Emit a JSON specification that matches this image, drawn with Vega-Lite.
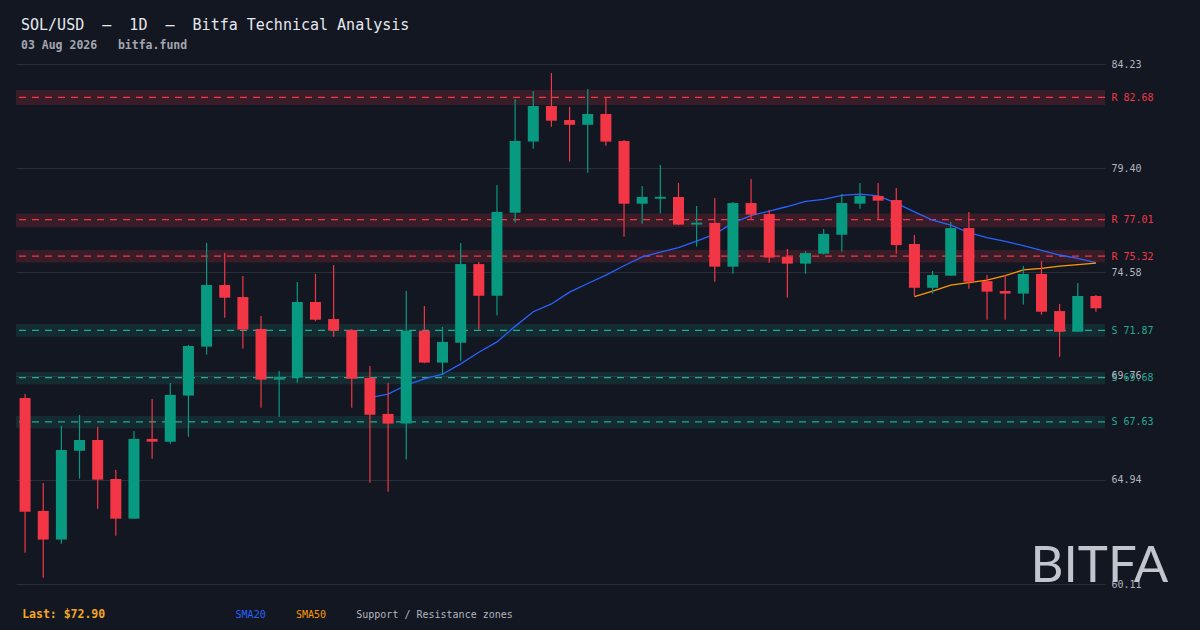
{
  "$schema": "https://vega.github.io/schema/vega-lite/v6.json",
  "background": "#131722",
  "autosize": {"type": "none"},
  "padding": {"left": 16, "top": 64, "right": 95, "bottom": 46},
  "width": 1089,
  "height": 520,
  "title": {
    "text": "SOL/USD\u00a0\u00a0–\u00a0\u00a01D\u00a0\u00a0–\u00a0\u00a0Bitfa Technical Analysis",
    "subtitle": "03 Aug 2026\u00a0\u00a0\u00a0bitfa.fund",
    "anchor": "start",
    "frame": "group",
    "dx": 5,
    "offset": 8,
    "font": "DejaVu Sans Mono",
    "fontSize": 15,
    "fontWeight": "normal",
    "color": "#e6e8ee",
    "subtitleFont": "DejaVu Sans Mono",
    "subtitleFontSize": 11.5,
    "subtitleFontWeight": "bold",
    "subtitleColor": "#a3a6af",
    "subtitlePadding": 7
  },
  "datasets": {
    "candles": [
      {"i": 0, "date": "2026-06-05", "o": 68.74, "h": 68.92, "l": 61.56, "c": 63.46},
      {"i": 1, "date": "2026-06-06", "o": 63.50, "h": 64.80, "l": 60.40, "c": 62.17},
      {"i": 2, "date": "2026-06-07", "o": 62.17, "h": 67.44, "l": 61.98, "c": 66.33},
      {"i": 3, "date": "2026-06-08", "o": 66.29, "h": 67.95, "l": 65.00, "c": 66.79},
      {"i": 4, "date": "2026-06-09", "o": 66.79, "h": 67.39, "l": 63.60, "c": 64.95},
      {"i": 5, "date": "2026-06-10", "o": 64.98, "h": 65.40, "l": 62.35, "c": 63.14},
      {"i": 6, "date": "2026-06-11", "o": 63.14, "h": 67.21, "l": 63.14, "c": 66.84},
      {"i": 7, "date": "2026-06-12", "o": 66.84, "h": 68.69, "l": 65.92, "c": 66.71},
      {"i": 8, "date": "2026-06-13", "o": 66.71, "h": 69.43, "l": 66.62, "c": 68.88},
      {"i": 9, "date": "2026-06-14", "o": 68.85, "h": 71.20, "l": 66.94, "c": 71.15},
      {"i": 10, "date": "2026-06-15", "o": 71.12, "h": 75.93, "l": 70.75, "c": 73.98},
      {"i": 11, "date": "2026-06-16", "o": 73.98, "h": 75.46, "l": 72.46, "c": 73.39},
      {"i": 12, "date": "2026-06-17", "o": 73.42, "h": 74.40, "l": 71.03, "c": 71.91},
      {"i": 13, "date": "2026-06-18", "o": 71.94, "h": 72.54, "l": 68.29, "c": 69.59},
      {"i": 14, "date": "2026-06-19", "o": 69.59, "h": 69.99, "l": 67.87, "c": 69.71},
      {"i": 15, "date": "2026-06-20", "o": 69.68, "h": 74.12, "l": 69.45, "c": 73.19},
      {"i": 16, "date": "2026-06-21", "o": 73.19, "h": 74.49, "l": 72.30, "c": 72.37},
      {"i": 17, "date": "2026-06-22", "o": 72.40, "h": 74.91, "l": 71.58, "c": 71.86},
      {"i": 18, "date": "2026-06-23", "o": 71.89, "h": 71.94, "l": 68.29, "c": 69.63},
      {"i": 19, "date": "2026-06-24", "o": 69.67, "h": 70.22, "l": 64.81, "c": 67.96},
      {"i": 20, "date": "2026-06-25", "o": 68.00, "h": 69.43, "l": 64.39, "c": 67.55},
      {"i": 21, "date": "2026-06-26", "o": 67.55, "h": 73.70, "l": 65.88, "c": 71.86},
      {"i": 22, "date": "2026-06-27", "o": 71.86, "h": 73.01, "l": 70.35, "c": 70.38},
      {"i": 23, "date": "2026-06-28", "o": 70.38, "h": 72.03, "l": 69.82, "c": 71.34},
      {"i": 24, "date": "2026-06-29", "o": 71.30, "h": 75.93, "l": 70.47, "c": 74.95},
      {"i": 25, "date": "2026-06-30", "o": 74.95, "h": 75.05, "l": 71.91, "c": 73.48},
      {"i": 26, "date": "2026-07-01", "o": 73.48, "h": 78.62, "l": 72.56, "c": 77.37},
      {"i": 27, "date": "2026-07-02", "o": 77.33, "h": 82.61, "l": 76.87, "c": 80.66},
      {"i": 28, "date": "2026-07-03", "o": 80.63, "h": 82.98, "l": 80.30, "c": 82.28},
      {"i": 29, "date": "2026-07-04", "o": 82.28, "h": 83.81, "l": 81.32, "c": 81.60},
      {"i": 30, "date": "2026-07-05", "o": 81.63, "h": 82.24, "l": 79.70, "c": 81.41},
      {"i": 31, "date": "2026-07-06", "o": 81.41, "h": 83.07, "l": 79.19, "c": 81.91},
      {"i": 32, "date": "2026-07-07", "o": 81.91, "h": 82.70, "l": 80.44, "c": 80.63},
      {"i": 33, "date": "2026-07-08", "o": 80.66, "h": 80.70, "l": 76.22, "c": 77.75},
      {"i": 34, "date": "2026-07-09", "o": 77.75, "h": 78.57, "l": 76.82, "c": 78.06},
      {"i": 35, "date": "2026-07-10", "o": 77.98, "h": 79.55, "l": 77.29, "c": 78.07},
      {"i": 36, "date": "2026-07-11", "o": 78.06, "h": 78.71, "l": 76.75, "c": 76.78},
      {"i": 37, "date": "2026-07-12", "o": 76.78, "h": 77.64, "l": 75.76, "c": 76.87},
      {"i": 38, "date": "2026-07-13", "o": 76.86, "h": 78.01, "l": 74.13, "c": 74.83},
      {"i": 39, "date": "2026-07-14", "o": 74.83, "h": 77.83, "l": 74.50, "c": 77.78},
      {"i": 40, "date": "2026-07-15", "o": 77.78, "h": 78.90, "l": 76.99, "c": 77.24},
      {"i": 41, "date": "2026-07-16", "o": 77.27, "h": 77.46, "l": 75.01, "c": 75.25},
      {"i": 42, "date": "2026-07-17", "o": 75.29, "h": 75.65, "l": 73.39, "c": 74.97},
      {"i": 43, "date": "2026-07-18", "o": 74.97, "h": 75.55, "l": 74.50, "c": 75.46},
      {"i": 44, "date": "2026-07-19", "o": 75.43, "h": 76.58, "l": 75.39, "c": 76.35},
      {"i": 45, "date": "2026-07-20", "o": 76.31, "h": 78.20, "l": 75.52, "c": 77.78},
      {"i": 46, "date": "2026-07-21", "o": 77.75, "h": 78.71, "l": 77.52, "c": 78.11},
      {"i": 47, "date": "2026-07-22", "o": 78.11, "h": 78.71, "l": 76.99, "c": 77.89},
      {"i": 48, "date": "2026-07-23", "o": 77.92, "h": 78.48, "l": 75.43, "c": 75.83},
      {"i": 49, "date": "2026-07-24", "o": 75.88, "h": 76.30, "l": 73.44, "c": 73.85},
      {"i": 50, "date": "2026-07-25", "o": 73.85, "h": 74.63, "l": 73.58, "c": 74.44},
      {"i": 51, "date": "2026-07-26", "o": 74.41, "h": 76.90, "l": 74.41, "c": 76.62},
      {"i": 52, "date": "2026-07-27", "o": 76.62, "h": 77.37, "l": 73.81, "c": 74.13},
      {"i": 53, "date": "2026-07-28", "o": 74.16, "h": 74.44, "l": 72.37, "c": 73.67},
      {"i": 54, "date": "2026-07-29", "o": 73.70, "h": 74.44, "l": 72.37, "c": 73.58},
      {"i": 55, "date": "2026-07-30", "o": 73.58, "h": 74.86, "l": 73.07, "c": 74.49},
      {"i": 56, "date": "2026-07-31", "o": 74.49, "h": 75.09, "l": 72.60, "c": 72.74},
      {"i": 57, "date": "2026-08-01", "o": 72.77, "h": 73.10, "l": 70.65, "c": 71.81},
      {"i": 58, "date": "2026-08-02", "o": 71.81, "h": 74.07, "l": 71.81, "c": 73.47},
      {"i": 59, "date": "2026-08-03", "o": 73.47, "h": 73.52, "l": 72.74, "c": 72.90}
    ],
    "sma": [
      {"i": 19, "ma": "SMA20", "v": 68.76}, {"i": 20, "ma": "SMA20", "v": 68.92},
      {"i": 21, "ma": "SMA20", "v": 69.34}, {"i": 22, "ma": "SMA20", "v": 69.62},
      {"i": 23, "ma": "SMA20", "v": 69.84}, {"i": 24, "ma": "SMA20", "v": 70.32},
      {"i": 25, "ma": "SMA20", "v": 70.86}, {"i": 26, "ma": "SMA20", "v": 71.34},
      {"i": 27, "ma": "SMA20", "v": 72.06}, {"i": 28, "ma": "SMA20", "v": 72.74},
      {"i": 29, "ma": "SMA20", "v": 73.10}, {"i": 30, "ma": "SMA20", "v": 73.65},
      {"i": 31, "ma": "SMA20", "v": 74.05}, {"i": 32, "ma": "SMA20", "v": 74.44},
      {"i": 33, "ma": "SMA20", "v": 74.87}, {"i": 34, "ma": "SMA20", "v": 75.28},
      {"i": 35, "ma": "SMA20", "v": 75.50}, {"i": 36, "ma": "SMA20", "v": 75.71},
      {"i": 37, "ma": "SMA20", "v": 76.01}, {"i": 38, "ma": "SMA20", "v": 76.34},
      {"i": 39, "ma": "SMA20", "v": 76.86}, {"i": 40, "ma": "SMA20", "v": 77.20},
      {"i": 41, "ma": "SMA20", "v": 77.41}, {"i": 42, "ma": "SMA20", "v": 77.62},
      {"i": 43, "ma": "SMA20", "v": 77.86}, {"i": 44, "ma": "SMA20", "v": 77.95},
      {"i": 45, "ma": "SMA20", "v": 78.14}, {"i": 46, "ma": "SMA20", "v": 78.19},
      {"i": 47, "ma": "SMA20", "v": 78.11}, {"i": 48, "ma": "SMA20", "v": 77.78},
      {"i": 49, "ma": "SMA20", "v": 77.37}, {"i": 50, "ma": "SMA20", "v": 76.99},
      {"i": 51, "ma": "SMA20", "v": 76.76}, {"i": 52, "ma": "SMA20", "v": 76.41},
      {"i": 53, "ma": "SMA20", "v": 76.18}, {"i": 54, "ma": "SMA20", "v": 76.00},
      {"i": 55, "ma": "SMA20", "v": 75.81}, {"i": 56, "ma": "SMA20", "v": 75.58},
      {"i": 57, "ma": "SMA20", "v": 75.37}, {"i": 58, "ma": "SMA20", "v": 75.21},
      {"i": 59, "ma": "SMA20", "v": 75.02},
      {"i": 49, "ma": "SMA50", "v": 73.44}, {"i": 50, "ma": "SMA50", "v": 73.70},
      {"i": 51, "ma": "SMA50", "v": 73.97}, {"i": 52, "ma": "SMA50", "v": 74.09},
      {"i": 53, "ma": "SMA50", "v": 74.21}, {"i": 54, "ma": "SMA50", "v": 74.41},
      {"i": 55, "ma": "SMA50", "v": 74.68}, {"i": 56, "ma": "SMA50", "v": 74.75},
      {"i": 57, "ma": "SMA50", "v": 74.85}, {"i": 58, "ma": "SMA50", "v": 74.92},
      {"i": 59, "ma": "SMA50", "v": 74.99}
    ],
    "zones": [
      {"kind": "R", "level": 82.68, "lo": 82.33, "hi": 83.02},
      {"kind": "R", "level": 77.01, "lo": 76.66, "hi": 77.30},
      {"kind": "R", "level": 75.32, "lo": 75.02, "hi": 75.60},
      {"kind": "S", "level": 71.87, "lo": 71.58, "hi": 72.17},
      {"kind": "S", "level": 69.68, "lo": 69.37, "hi": 69.94},
      {"kind": "S", "level": 67.63, "lo": 67.33, "hi": 67.90}
    ]
  },
  "layer": [
    {
      "data": {"name": "zones"},
      "mark": {"type": "rect"},
      "encoding": {
        "y": {
          "field": "lo",
          "type": "quantitative",
          "scale": {"domain": [60.11, 84.23], "nice": false, "zero": false},
          "axis": {
            "orient": "right",
            "title": null,
            "values": [84.23, 82.68, 79.40, 77.01, 75.32, 74.58, 71.87, 69.76, 69.68, 67.63, 64.94, 60.11],
            "labelExpr": "indexof([82.68, 77.01, 75.32], datum.value) >= 0 ? 'R ' + format(datum.value, '.2f') : indexof([71.87, 69.68, 67.63], datum.value) >= 0 ? 'S ' + format(datum.value, '.2f') : format(datum.value, '.2f')",
            "labelColor": {
              "condition": [
                {"test": "indexof([82.68, 77.01, 75.32], datum.value) >= 0", "value": "#f23645"},
                {"test": "indexof([71.87, 69.68, 67.63], datum.value) >= 0", "value": "#22ab94"}
              ],
              "value": "#b2b5be"
            },
            "gridOpacity": {
              "condition": {"test": "indexof([82.68, 77.01, 75.32, 71.87, 69.68, 67.63], datum.value) >= 0", "value": 0},
              "value": 1
            },
            "grid": true,
            "gridColor": "#2a2e39",
            "gridWidth": 1,
            "domain": false,
            "ticks": false,
            "labelPadding": 6,
            "labelOverlap": false,
            "labelBound": false,
            "labelFlush": false,
            "labelFont": "DejaVu Sans Mono",
            "labelFontSize": 10
          }
        },
        "y2": {"field": "hi"},
        "color": {
          "field": "kind",
          "type": "nominal",
          "scale": {"domain": ["R", "S"], "range": ["#f23645", "#22ab94"]},
          "legend": null
        },
        "fillOpacity": {"condition": {"test": "datum.kind == 'R'", "value": 0.17}, "value": 0.14}
      }
    },
    {
      "data": {"name": "zones"},
      "mark": {"type": "rule", "strokeDash": [7, 6], "strokeWidth": 1.3},
      "encoding": {
        "y": {"field": "level", "type": "quantitative"},
        "color": {"field": "kind", "type": "nominal", "legend": null}
      }
    },
    {
      "data": {"name": "sma"},
      "mark": {"type": "line", "strokeWidth": 1.3, "interpolate": "linear"},
      "encoding": {
        "x": {"field": "i", "type": "quantitative"},
        "y": {"field": "v", "type": "quantitative"},
        "detail": {"field": "ma", "type": "nominal"},
        "stroke": {
          "field": "ma",
          "type": "nominal",
          "scale": {"domain": ["SMA20", "SMA50"], "range": ["#2962ff", "#ff9800"]},
          "legend": null
        }
      }
    },
    {
      "data": {"name": "candles"},
      "mark": {"type": "rule", "strokeWidth": 1.2},
      "encoding": {
        "x": {"field": "i", "type": "quantitative"},
        "y": {"field": "l", "type": "quantitative"},
        "y2": {"field": "h"},
        "color": {"condition": {"test": "datum.c >= datum.o", "value": "#089981"}, "value": "#f23645"}
      }
    },
    {
      "data": {"name": "candles"},
      "mark": {"type": "bar", "size": 11},
      "encoding": {
        "x": {
          "field": "i",
          "type": "quantitative",
          "scale": {"domain": [-0.5, 59.5], "nice": false, "zero": false, "padding": 0},
          "axis": {
            "orient": "bottom",
            "title": null,
            "values": [-0.19, 11.57, 14.9, 18.22],
            "labelExpr": "datum.value < 0 ? 'Last: $72.90' : datum.value < 13 ? 'SMA20' : datum.value < 16 ? 'SMA50' : 'Support / Resistance zones'",
            "labelColor": {
              "condition": [
                {"test": "datum.value < 0", "value": "#f5a524"},
                {"test": "datum.value < 13", "value": "#2962ff"},
                {"test": "datum.value < 16", "value": "#ff9800"}
              ],
              "value": "#b2b5be"
            },
            "labelFontWeight": {"condition": {"test": "datum.value < 0", "value": "bold"}, "value": "normal"},
            "labelFontSize": {"condition": {"test": "datum.value < 0", "value": 11.5}, "value": 10},
            "labelFont": "DejaVu Sans Mono",
            "labelAlign": "left",
            "labelBaseline": "alphabetic",
            "labelPadding": 33,
            "labelOverlap": false,
            "labelBound": false,
            "labelFlush": false,
            "grid": false,
            "domain": false,
            "ticks": false
          }
        },
        "y": {"field": "o", "type": "quantitative"},
        "y2": {"field": "c"},
        "color": {"condition": {"test": "datum.c >= datum.o", "value": "#089981"}, "value": "#f23645"}
      }
    },
    {
      "data": {"values": [{"brand": "BITFA"}]},
      "mark": {
        "type": "text",
        "font": "Lato",
        "fontSize": 51,
        "fontWeight": "normal",
        "align": "left",
        "baseline": "alphabetic",
        "color": "#d1d4dc",
        "opacity": 0.92
      },
      "encoding": {
        "text": {"field": "brand"},
        "x": {"datum": 55.4, "type": "quantitative"},
        "y": {"datum": 60.2, "type": "quantitative"}
      }
    }
  ],
  "config": {
    "view": {"stroke": null},
    "axis": {"titleColor": "#b2b5be"}
  }
}
